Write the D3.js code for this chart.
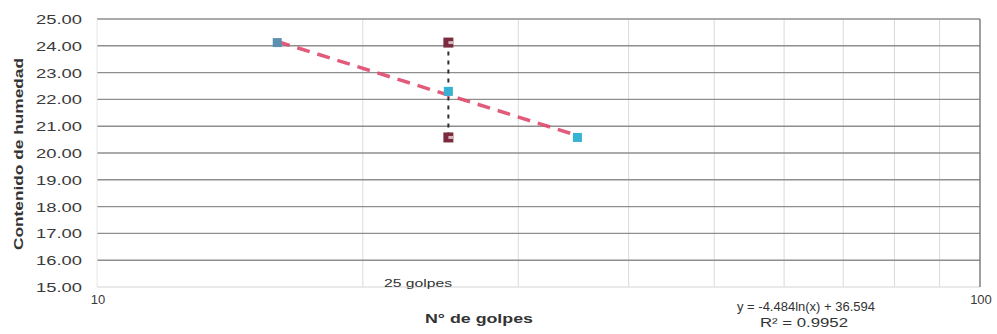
<!DOCTYPE html>
<html>
<head>
<meta charset="utf-8">
<script src="https://cdn.jsdelivr.net/npm/d3@7"></script>
<style>
  html, body { margin: 0; padding: 0; background: #fff; }
  svg { display: block; font-family: "Liberation Sans", Arial, sans-serif; }
</style>
</head>
<body>
<svg id="chart" width="997" height="334"></svg>
<script>
// Casagrande test: number of blows vs moisture content
const golpes = [16, 25, 35];
const humedad = [24.12, 22.30, 20.58];

// logarithmic trendline y = a·ln(x) + b
const trendA = -4.484;
const trendB = 36.594;
const trendR2 = 0.9952;

// reference blow count (25 golpes)
const golpesRef = 25;

const yTicks = [15, 16, 17, 18, 19, 20, 21, 22, 23, 24, 25];
const xTickLabels = [10, 100];
const xGridValues = [20, 30, 40, 50, 60, 70, 80, 90];

const svg = d3.select("#chart");

const x = d3.scaleLog().domain([10, 100]).range([97, 980]);
const y = d3.scaleLinear().domain([15, 25]).range([287, 19]);

// vertical (log) gridlines
svg.append("g")
  .selectAll("line")
  .data(xGridValues)
  .join("line")
  .attr("x1", d => x(d)).attr("x2", d => x(d))
  .attr("y1", y(25)).attr("y2", y(15))
  .attr("stroke", "#dadada").attr("stroke-width", 1);

// horizontal gridlines
svg.append("g")
  .selectAll("line")
  .data(yTicks)
  .join("line")
  .attr("x1", x(10)).attr("x2", x(100))
  .attr("y1", d => y(d)).attr("y2", d => y(d))
  .attr("stroke", d => d === 15 ? "#e2e2e2" : "#8e8e8e")
  .attr("stroke-width", 1.4);

// right border
svg.append("line")
  .attr("x1", x(100)).attr("x2", x(100))
  .attr("y1", y(25)).attr("y2", y(15))
  .attr("stroke", "#777").attr("stroke-width", 1.4);

// left edge
svg.append("line")
  .attr("x1", x(10)).attr("x2", x(10))
  .attr("y1", y(25)).attr("y2", y(15))
  .attr("stroke", "#e6e6e6").attr("stroke-width", 1);

// y-axis tick labels
svg.append("g")
  .selectAll("text")
  .data(yTicks)
  .join("text")
  .attr("x", 82)
  .attr("y", d => y(d) + 5)
  .attr("text-anchor", "end")
  .attr("font-size", 13)
  .attr("fill", "#3a3a3a")
  .attr("textLength", 46)
  .attr("lengthAdjust", "spacingAndGlyphs")
  .text(d => d.toFixed(2));

// x-axis tick labels
svg.append("g")
  .selectAll("text")
  .data(xTickLabels)
  .join("text")
  .attr("x", d => x(d) + 1)
  .attr("y", 304)
  .attr("text-anchor", "middle")
  .attr("font-size", 13)
  .attr("fill", "#3a3a3a")
  .text(d => d);

// axis titles
svg.append("text")
  .attr("transform", "translate(23,154) rotate(-90)")
  .attr("text-anchor", "middle")
  .attr("font-size", 13)
  .attr("font-weight", "bold")
  .attr("fill", "#333")
  .attr("textLength", 192)
  .attr("lengthAdjust", "spacingAndGlyphs")
  .text("Contenido de humedad");

svg.append("text")
  .attr("x", 479).attr("y", 323)
  .attr("text-anchor", "middle")
  .attr("font-size", 13)
  .attr("font-weight", "bold")
  .attr("fill", "#333")
  .attr("textLength", 108)
  .attr("lengthAdjust", "spacingAndGlyphs")
  .text("N° de golpes");

// reference label
svg.append("text")
  .attr("x", 418).attr("y", 287)
  .attr("text-anchor", "middle")
  .attr("font-size", 10)
  .attr("fill", "#333")
  .attr("textLength", 68)
  .attr("lengthAdjust", "spacingAndGlyphs")
  .text(golpesRef + " golpes");

// vertical dashed reference line at 25 blows
const hMax = d3.max(humedad), hMin = d3.min(humedad);
svg.append("line")
  .attr("x1", x(golpesRef)).attr("x2", x(golpesRef))
  .attr("y1", y(hMax)).attr("y2", y(hMin))
  .attr("stroke", "#2f2f2f").attr("stroke-width", 2)
  .attr("stroke-dasharray", "4,5");

// trendline across the data range
const xs = d3.extent(golpes);
const trendPts = xs.map(g => [g, trendA * Math.log(g) + trendB]);
svg.append("path")
  .attr("d", d3.line().x(d => x(d[0])).y(d => y(d[1]))(trendPts))
  .attr("fill", "none")
  .attr("stroke", "#e0496b")
  .attr("stroke-width", 3.5)
  .attr("stroke-dasharray", "13,8")
  .attr("opacity", 0.9);

// end markers of the reference line
svg.append("g")
  .selectAll("g")
  .data([hMax, hMin])
  .join("g")
  .attr("transform", d => `translate(${x(golpesRef)},${y(d)})`)
  .call(g => {
    g.append("rect")
      .attr("x", -5).attr("y", -5).attr("width", 10).attr("height", 10)
      .attr("fill", "#7a2b3d");
    g.append("rect")
      .attr("x", 0).attr("y", -1.5).attr("width", 5).attr("height", 3)
      .attr("fill", "#d9b3bd");
  });

// data points
svg.append("g")
  .selectAll("rect")
  .data(golpes.map((g, i) => [g, humedad[i]]))
  .join("rect")
  .attr("x", d => x(d[0]) - 4.5)
  .attr("y", d => y(d[1]) - 4.5)
  .attr("width", 9).attr("height", 9)
  .attr("fill", (d, i) => i === 0 ? "#5d8fb0" : "#36b2d2");

// trendline equation
svg.append("text")
  .attr("x", 806).attr("y", 311)
  .attr("text-anchor", "middle")
  .attr("font-size", 12)
  .attr("fill", "#333")
  .attr("textLength", 138)
  .attr("lengthAdjust", "spacingAndGlyphs")
  .text(`y = ${trendA}ln(x) + ${trendB}`);

svg.append("text")
  .attr("x", 804).attr("y", 327)
  .attr("text-anchor", "middle")
  .attr("font-size", 12)
  .attr("fill", "#333")
  .attr("textLength", 88)
  .attr("lengthAdjust", "spacingAndGlyphs")
  .text(`R² = ${trendR2}`);
</script>
</body>
</html>
